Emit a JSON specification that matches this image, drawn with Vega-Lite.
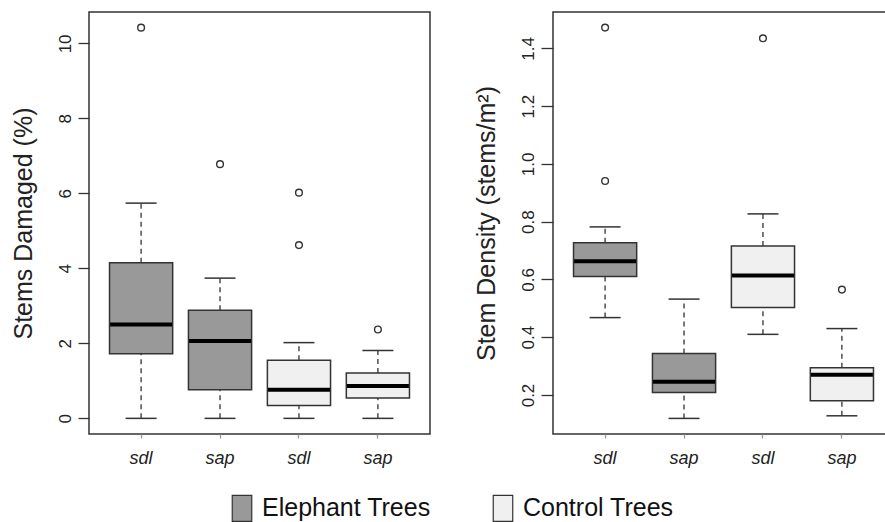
{
  "$schema": "https://vega.github.io/schema/vega-lite/v6.json",
  "padding": {"left": 10, "top": 11, "right": 0, "bottom": 0},
  "background": "white",
  "datasets": {
    "damaged": [
      {"box": "Elephant sdl", "group": "Elephant Trees", "lower": 0, "q1": 1.72, "median": 2.5, "q3": 4.15, "upper": 5.74},
      {"box": "Elephant sap", "group": "Elephant Trees", "lower": 0, "q1": 0.76, "median": 2.06, "q3": 2.88, "upper": 3.74},
      {"box": "Control sdl", "group": "Control Trees", "lower": 0, "q1": 0.34, "median": 0.76, "q3": 1.55, "upper": 2.02},
      {"box": "Control sap", "group": "Control Trees", "lower": 0, "q1": 0.54, "median": 0.86, "q3": 1.21, "upper": 1.81}
    ],
    "damaged_out": [
      {"box": "Elephant sdl", "value": 10.42},
      {"box": "Elephant sap", "value": 6.78},
      {"box": "Control sdl", "value": 4.62},
      {"box": "Control sdl", "value": 6.02},
      {"box": "Control sap", "value": 2.37}
    ],
    "density": [
      {"box": "Elephant sdl", "group": "Elephant Trees", "lower": 0.468, "q1": 0.61, "median": 0.663, "q3": 0.727, "upper": 0.782},
      {"box": "Elephant sap", "group": "Elephant Trees", "lower": 0.119, "q1": 0.209, "median": 0.246, "q3": 0.344, "upper": 0.532},
      {"box": "Control sdl", "group": "Control Trees", "lower": 0.41, "q1": 0.503, "median": 0.614, "q3": 0.716, "upper": 0.827},
      {"box": "Control sap", "group": "Control Trees", "lower": 0.128, "q1": 0.18, "median": 0.27, "q3": 0.294, "upper": 0.43}
    ],
    "density_out": [
      {"box": "Elephant sdl", "value": 1.472},
      {"box": "Elephant sdl", "value": 0.941},
      {"box": "Control sdl", "value": 1.435},
      {"box": "Control sap", "value": 0.565}
    ]
  },
  "spacing": 123,
  "bounds": "flush",
  "hconcat": [
    {
      "width": 341,
      "height": 422,
      "layer": [
        {
          "data": {"name": "damaged"},
          "mark": {"type": "rule", "strokeDash": [5, 4], "color": "#333", "strokeWidth": 1.3},
          "encoding": {
            "x": {"field": "box", "type": "nominal"},
            "y": {"field": "lower", "type": "quantitative"},
            "y2": {"field": "q1"}
          }
        },
        {
          "data": {"name": "damaged"},
          "mark": {"type": "rule", "strokeDash": [5, 4], "color": "#333", "strokeWidth": 1.3},
          "encoding": {
            "x": {"field": "box", "type": "nominal"},
            "y": {"field": "q3", "type": "quantitative"},
            "y2": {"field": "upper"}
          }
        },
        {
          "data": {"name": "damaged"},
          "mark": {"type": "tick", "color": "#333", "size": 31, "thickness": 1.5, "opacity": 1},
          "encoding": {
            "x": {"field": "box", "type": "nominal"},
            "y": {"field": "lower", "type": "quantitative"}
          }
        },
        {
          "data": {"name": "damaged"},
          "mark": {"type": "tick", "color": "#333", "size": 31, "thickness": 1.5, "opacity": 1},
          "encoding": {
            "x": {"field": "box", "type": "nominal"},
            "y": {"field": "upper", "type": "quantitative"}
          }
        },
        {
          "data": {"name": "damaged"},
          "mark": {"type": "bar", "stroke": "#333", "strokeWidth": 1.5, "opacity": 1},
          "encoding": {
            "x": {"field": "box", "type": "nominal"},
            "y": {"field": "q1", "type": "quantitative"},
            "y2": {"field": "q3"},
            "fill": {
              "field": "group", "type": "nominal",
              "scale": {"domain": ["Elephant Trees", "Control Trees"], "range": ["#999999", "#f0f0f0"]},
              "legend": {"orient": "none", "legendX": 139, "legendY": 482, "direction": "horizontal", "title": null}
            }
          }
        },
        {
          "data": {"name": "damaged"},
          "mark": {"type": "tick", "color": "#000", "size": 62, "thickness": 4, "opacity": 1},
          "encoding": {
            "x": {"field": "box", "type": "nominal"},
            "y": {"field": "median", "type": "quantitative"}
          }
        },
        {
          "data": {"name": "damaged_out"},
          "mark": {"type": "point", "shape": "circle", "filled": false, "color": "#333", "size": 45, "strokeWidth": 1.4, "opacity": 1},
          "encoding": {
            "x": {"field": "box", "type": "nominal"},
            "y": {"field": "value", "type": "quantitative"}
          }
        }
      ],
      "encoding": {
        "x": {
          "field": "box", "type": "nominal",
          "sort": ["Elephant sdl", "Elephant sap", "Control sdl", "Control sap"],
          "scale": {"paddingInner": 0.2, "paddingOuter": 0.26},
          "axis": {"title": null, "labelAngle": 0, "labelExpr": "split(datum.value, ' ')[1]", "labelFontStyle": "italic", "labelFontSize": 18, "labelPadding": 11, "tickSize": 4, "tickColor": "#999"}
        },
        "y": {
          "type": "quantitative",
          "scale": {"domain": [-0.417, 10.837], "nice": false, "zero": false},
          "axis": {"title": "Stems Damaged (%)", "values": [0, 2, 4, 6, 8, 10], "labelAngle": -90, "labelAlign": "center", "labelBaseline": "bottom", "labelPadding": 4, "labelFontSize": 17, "tickSize": 11, "titleFontSize": 25, "titlePadding": 20}
        }
      }
    },
    {
      "width": 341,
      "height": 422,
      "layer": [
        {
          "data": {"name": "density"},
          "mark": {"type": "rule", "strokeDash": [5, 4], "color": "#333", "strokeWidth": 1.3},
          "encoding": {
            "x": {"field": "box", "type": "nominal"},
            "y": {"field": "lower", "type": "quantitative"},
            "y2": {"field": "q1"}
          }
        },
        {
          "data": {"name": "density"},
          "mark": {"type": "rule", "strokeDash": [5, 4], "color": "#333", "strokeWidth": 1.3},
          "encoding": {
            "x": {"field": "box", "type": "nominal"},
            "y": {"field": "q3", "type": "quantitative"},
            "y2": {"field": "upper"}
          }
        },
        {
          "data": {"name": "density"},
          "mark": {"type": "tick", "color": "#333", "size": 31, "thickness": 1.5, "opacity": 1},
          "encoding": {
            "x": {"field": "box", "type": "nominal"},
            "y": {"field": "lower", "type": "quantitative"}
          }
        },
        {
          "data": {"name": "density"},
          "mark": {"type": "tick", "color": "#333", "size": 31, "thickness": 1.5, "opacity": 1},
          "encoding": {
            "x": {"field": "box", "type": "nominal"},
            "y": {"field": "upper", "type": "quantitative"}
          }
        },
        {
          "data": {"name": "density"},
          "mark": {"type": "bar", "stroke": "#333", "strokeWidth": 1.5, "opacity": 1},
          "encoding": {
            "x": {"field": "box", "type": "nominal"},
            "y": {"field": "q1", "type": "quantitative"},
            "y2": {"field": "q3"},
            "fill": {
              "field": "group", "type": "nominal",
              "scale": {"domain": ["Elephant Trees", "Control Trees"], "range": ["#999999", "#f0f0f0"]},
              "legend": {"orient": "none", "legendX": 139, "legendY": 482, "direction": "horizontal", "title": null}
            }
          }
        },
        {
          "data": {"name": "density"},
          "mark": {"type": "tick", "color": "#000", "size": 62, "thickness": 4, "opacity": 1},
          "encoding": {
            "x": {"field": "box", "type": "nominal"},
            "y": {"field": "median", "type": "quantitative"}
          }
        },
        {
          "data": {"name": "density_out"},
          "mark": {"type": "point", "shape": "circle", "filled": false, "color": "#333", "size": 45, "strokeWidth": 1.4, "opacity": 1},
          "encoding": {
            "x": {"field": "box", "type": "nominal"},
            "y": {"field": "value", "type": "quantitative"}
          }
        }
      ],
      "encoding": {
        "x": {
          "field": "box", "type": "nominal",
          "sort": ["Elephant sdl", "Elephant sap", "Control sdl", "Control sap"],
          "scale": {"paddingInner": 0.2, "paddingOuter": 0.26},
          "axis": {"title": null, "labelAngle": 0, "labelExpr": "split(datum.value, ' ')[1]", "labelFontStyle": "italic", "labelFontSize": 18, "labelPadding": 11, "tickSize": 4, "tickColor": "#999"}
        },
        "y": {
          "type": "quantitative",
          "scale": {"domain": [0.065, 1.526], "nice": false, "zero": false},
          "axis": {"title": "Stem Density (stems/m²)", "values": [0.2, 0.4, 0.6, 0.8, 1.0, 1.2, 1.4], "format": ".1f", "labelAngle": -90, "labelAlign": "center", "labelBaseline": "bottom", "labelPadding": 4, "labelFontSize": 17, "tickSize": 12, "titleFontSize": 25, "titlePadding": 20}
        }
      }
    }
  ],
  "config": {
    "font": "Liberation Sans",
    "view": {"stroke": "#333", "strokeWidth": 1.5},
    "axis": {"grid": false, "domain": false, "tickColor": "#333", "tickWidth": 1.3, "labelColor": "#222", "titleColor": "#222", "titleFontWeight": "normal", "labelFont": "Liberation Sans", "titleFont": "Liberation Sans"},
    "legend": {
      "padding": 0,
      "labelFontSize": 25,
      "labelLimit": 400,
      "labelColor": "#111",
      "labelFont": "Liberation Sans",
      "symbolType": "M-0.75,-1H0.75V1H-0.75Z",
      "symbolSize": 676,
      "symbolStrokeColor": "#333",
      "symbolStrokeWidth": 1.2,
      "labelOffset": 6,
      "columnPadding": 58,
      "symbolOpacity": 1
    }
  }
}
